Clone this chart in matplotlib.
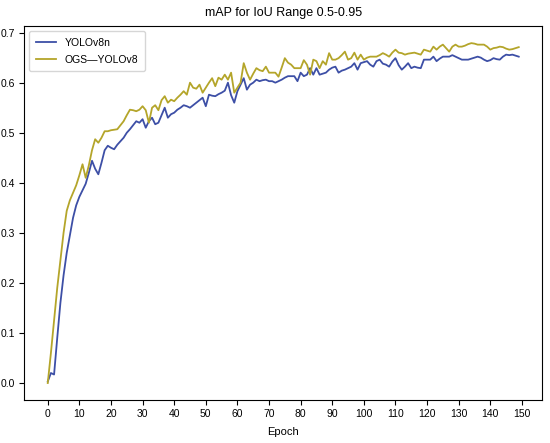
import matplotlib
matplotlib.use("Agg")
import matplotlib.pyplot as plt
import numpy as np

epochs = list(range(150))

yolov8n = [
    0.003, 0.02, 0.017, 0.09, 0.16, 0.215, 0.26, 0.295, 0.33, 0.355,
    0.372, 0.385, 0.398, 0.42, 0.444, 0.428, 0.417, 0.44, 0.465, 0.474,
    0.47, 0.467, 0.476, 0.483, 0.49, 0.5, 0.507, 0.515, 0.523, 0.52,
    0.527, 0.51, 0.523, 0.53, 0.517, 0.52, 0.535, 0.55, 0.53, 0.537,
    0.54, 0.546, 0.55, 0.555, 0.553, 0.55, 0.555, 0.56, 0.565, 0.57,
    0.553, 0.576, 0.574, 0.573, 0.577, 0.58, 0.584, 0.6, 0.575, 0.56,
    0.583, 0.596, 0.609, 0.586, 0.596, 0.6, 0.606, 0.603, 0.605, 0.606,
    0.603, 0.603, 0.6, 0.603, 0.606, 0.61, 0.613, 0.613, 0.613, 0.603,
    0.62, 0.613, 0.616, 0.629, 0.616, 0.629, 0.616, 0.618, 0.62, 0.626,
    0.63, 0.632, 0.62, 0.624, 0.626, 0.629, 0.632, 0.639, 0.626, 0.639,
    0.641, 0.643, 0.636, 0.632, 0.643, 0.646, 0.638, 0.636, 0.632, 0.642,
    0.649, 0.635, 0.626, 0.632, 0.639, 0.629, 0.632, 0.63, 0.629, 0.646,
    0.646, 0.646, 0.652, 0.643, 0.648, 0.652, 0.652, 0.652, 0.655, 0.652,
    0.649, 0.646, 0.646, 0.646, 0.648, 0.65, 0.652, 0.65, 0.646, 0.643,
    0.645, 0.649, 0.647, 0.646, 0.652, 0.656, 0.655, 0.656, 0.654, 0.652,
]

ogs_yolov8 = [
    0.0, 0.06, 0.126, 0.19, 0.245, 0.3, 0.344, 0.365, 0.38, 0.395,
    0.415, 0.437, 0.41, 0.435, 0.465, 0.487, 0.48, 0.49, 0.503, 0.503,
    0.505, 0.506, 0.507, 0.515, 0.523, 0.535, 0.546, 0.545, 0.543, 0.546,
    0.553, 0.545, 0.52, 0.55, 0.555, 0.545, 0.565, 0.573, 0.56, 0.566,
    0.563, 0.57, 0.576, 0.583, 0.576, 0.6, 0.59, 0.588, 0.596, 0.58,
    0.59, 0.6, 0.609, 0.593, 0.61, 0.606, 0.616, 0.606, 0.62, 0.58,
    0.59, 0.6, 0.639, 0.62, 0.606, 0.618, 0.629, 0.625, 0.623, 0.632,
    0.62, 0.62, 0.62, 0.612, 0.63, 0.649, 0.64, 0.636, 0.629, 0.629,
    0.629, 0.645, 0.636, 0.616, 0.646, 0.643, 0.629, 0.643, 0.636, 0.659,
    0.646, 0.646, 0.649, 0.655, 0.662, 0.646, 0.649, 0.66, 0.646, 0.656,
    0.646, 0.65, 0.652, 0.652, 0.652, 0.655, 0.659, 0.656, 0.652, 0.66,
    0.666, 0.66, 0.659, 0.656, 0.658, 0.659, 0.66, 0.658, 0.656, 0.666,
    0.664, 0.662, 0.672, 0.666, 0.672, 0.676, 0.669, 0.662, 0.672, 0.676,
    0.672, 0.672, 0.674, 0.677, 0.679, 0.678, 0.676, 0.676, 0.676, 0.672,
    0.666, 0.669, 0.670, 0.672, 0.671, 0.668, 0.666, 0.667, 0.669, 0.671,
]

series_names = ["YOLOv8n", "OGS\u2014YOLOv8"]
series_colors = ["#3d4fa6", "#b4a52a"]
xticks = list(range(0, 151, 10))
yticks = [0.0, 0.1, 0.2, 0.3, 0.4, 0.5, 0.6, 0.7]

plt.rcParams['font.family'] = ['Liberation Sans', 'DejaVu Sans']

fig = plt.figure(figsize=(5.5, 4.43), dpi=100)
ax = fig.add_axes([0.044, 0.097, 0.942, 0.844])

ax.plot(epochs, yolov8n, color=series_colors[0], lw=1.3, label=series_names[0])
ax.plot(epochs, ogs_yolov8, color=series_colors[1], lw=1.3, label=series_names[1])

ax.set_xticks(xticks)
ax.set_yticks(yticks)
ax.set_yticklabels([f"{v:.1f}" for v in yticks])
ax.tick_params(labelsize=7.5, length=3.5, pad=3)
ax.set_xlabel("Epoch", fontsize=8, labelpad=6)
ax.set_title("mAP for IoU Range 0.5-0.95", fontsize=9, pad=7)
ax.legend(loc="upper left", fontsize=7.5, handlelength=2.0, borderpad=0.6,
          labelspacing=0.7)

fig.savefig("out.png", dpi=100)
